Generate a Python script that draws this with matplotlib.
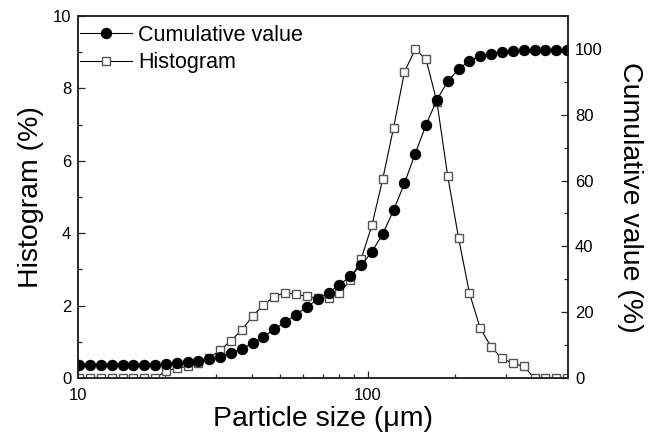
import matplotlib
matplotlib.use("Agg")
import matplotlib.pyplot as plt
from matplotlib.ticker import MultipleLocator, LogLocator, NullFormatter, FixedLocator

plt.rcParams['font.family'] = ['Liberation Sans', 'DejaVu Sans']

# particle size classes (um)
size = [10.08, 10.99, 11.98, 13.06, 14.24, 15.52, 16.92, 18.45, 20.11, 21.92,
        23.89, 26.05, 28.39, 30.95, 33.74, 36.78, 40.09, 43.70, 47.64, 51.93,
        56.61, 61.71, 67.27, 73.33, 79.93, 87.13, 94.98, 103.6, 112.9, 123.1,
        134.2, 146.2, 159.4, 173.8, 189.4, 206.5, 225.1, 245.4, 267.5, 291.6,
        317.9, 346.5, 377.8, 411.8, 448.9, 489.4]

# histogram (%)
hist = [0, 0, 0, 0, 0, 0, 0, 0, 0.2, 0.27,
        0.32, 0.41, 0.55, 0.77, 1.03, 1.33, 1.71, 2.02, 2.25, 2.36,
        2.31, 2.26, 2.2, 2.22, 2.35, 2.7, 3.28, 4.22, 5.5, 6.92,
        8.46, 9.08, 8.8, 7.62, 5.57, 3.86, 2.34, 1.37, 0.86, 0.54,
        0.41, 0.32, 0, 0, 0, 0]

# cumulative value (%)
cumul = [4.1, 4.1, 4.1, 4.1, 4.1, 4.1, 4.1, 4.1, 4.24, 4.6,
         4.85, 5.24, 5.85, 6.5, 7.5, 8.85, 10.6, 12.5, 14.8, 17.0,
         19.3, 21.6, 23.9, 25.9, 28.3, 30.9, 34.2, 38.4, 43.8, 51.0,
         59.2, 68.2, 77.0, 84.6, 90.2, 93.9, 96.4, 97.9, 98.6, 99.2,
         99.5, 99.7, 99.7, 99.7, 99.7, 99.7]

fig = plt.figure(figsize=(6.51, 4.34), dpi=100)
ax = fig.add_axes([0.12, 0.129, 0.7525, 0.834])
ax2 = ax.twinx()

h_line, = ax.plot(size, hist, color='black', lw=0.8, marker='s', ms=6,
                  mfc='white', mec='#555555', mew=1.0, label='Histogram')
c_line, = ax2.plot(size, cumul, color='black', lw=0.8, marker='o', ms=7.2,
                   mfc='black', mec='black', label='Cumulative value')

ax.set_xscale('log')
ax.set_xlim(10, 493)
ax.set_ylim(0, 10)
ax2.set_ylim(0, 110)

ax.xaxis.set_major_locator(FixedLocator([10, 100]))
ax.xaxis.set_major_formatter(matplotlib.ticker.FixedFormatter(['10', '100']))
ax.xaxis.set_minor_locator(LogLocator(base=10, subs=range(2, 10)))
ax.xaxis.set_minor_formatter(NullFormatter())

ax.yaxis.set_major_locator(MultipleLocator(2))
ax.yaxis.set_minor_locator(MultipleLocator(1))
ax2.yaxis.set_major_locator(FixedLocator([0, 20, 40, 60, 80, 100]))
ax2.yaxis.set_minor_locator(FixedLocator([10, 30, 50, 70, 90]))

for a in (ax, ax2):
    a.tick_params(which='major', direction='in', length=5, width=0.9,
                  labelsize=12, color='#222222')
    a.tick_params(which='minor', direction='in', length=3, width=0.9,
                  color='#222222')
    for sp in a.spines.values():
        sp.set_linewidth(1.1)
        sp.set_color('#222222')
ax.tick_params(axis='x', which='major', pad=7)
ax.tick_params(axis='y', pad=5)
ax2.tick_params(axis='y', pad=5)

ax.set_xlabel('Particle size (\u03bcm)', fontsize=20.5, labelpad=2)
ax.set_ylabel('Histogram (%)', fontsize=20.5, labelpad=6)
ax2.set_ylabel('Cumulative value (%)', fontsize=20.5, rotation=270,
               labelpad=29)

ax.legend([c_line, h_line], ['Cumulative value', 'Histogram'],
          loc='upper left', bbox_to_anchor=(0.0, 0.982), frameon=False,
          fontsize=15.5, handlelength=2.4, handletextpad=0.3,
          labelspacing=0.3, borderaxespad=0.0, borderpad=0.1)

fig.savefig('out.png', dpi=100)
